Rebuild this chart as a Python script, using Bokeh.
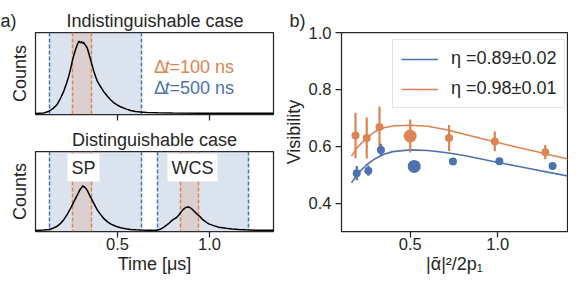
from bokeh.plotting import figure
from bokeh.layouts import row, column
from bokeh.models import Label, Range1d, FixedTicker
from bokeh.embed import file_html
from bokeh.resources import INLINE

# ---------------- data ----------------
# panel a) histograms (time in us, counts normalised)
t_ind = [0.054, 0.10, 0.127, 0.15, 0.172, 0.19, 0.208, 0.222, 0.235, 0.245, 0.254, 0.263,
         0.272, 0.281, 0.290, 0.295, 0.300, 0.305, 0.310, 0.315, 0.320, 0.327, 0.335, 0.344,
         0.353, 0.362, 0.371, 0.380, 0.390, 0.403, 0.417, 0.430, 0.444, 0.462, 0.480, 0.498,
         0.516, 0.545, 0.571, 0.598, 0.625, 0.66, 0.72, 0.80, 0.95, 1.1, 1.348]
c_ind = [0.0, 0.005, 0.03, 0.07, 0.124, 0.21, 0.309, 0.41, 0.516, 0.62, 0.724, 0.81,
         0.885, 0.95, 1.0, 0.985, 0.978, 0.995, 0.97, 0.985, 0.96, 0.94, 0.908, 0.83,
         0.747, 0.665, 0.585, 0.515, 0.447, 0.39, 0.332, 0.285, 0.24, 0.19, 0.147, 0.118,
         0.092, 0.063, 0.041, 0.028, 0.018, 0.012, 0.008, 0.005, 0.003, 0.002, 0.001]

t_dis = [0.054, 0.10, 0.127, 0.15, 0.172, 0.19, 0.208, 0.227, 0.245, 0.263, 0.281, 0.296,
         0.311, 0.322, 0.335, 0.348, 0.362, 0.376, 0.39, 0.408, 0.426, 0.444, 0.462, 0.49,
         0.516, 0.545, 0.571, 0.60, 0.625, 0.67, 0.70,
         0.715, 0.735, 0.752, 0.779, 0.795, 0.806, 0.820, 0.833, 0.845, 0.858, 0.870, 0.882,
         0.894, 0.906, 0.92, 0.933, 0.947, 0.96, 0.978, 0.996, 1.023, 1.051, 1.09, 1.123,
         1.16, 1.196, 1.25, 1.30, 1.348]
c_dis = [0.0, 0.005, 0.014, 0.032, 0.06, 0.10, 0.153, 0.23, 0.315, 0.41, 0.50, 0.58,
         0.63, 0.615, 0.57, 0.50, 0.43, 0.36, 0.29, 0.225, 0.167, 0.125, 0.093, 0.06,
         0.037, 0.024, 0.014, 0.009, 0.005, 0.003, 0.002,
         0.003, 0.02, 0.046, 0.10, 0.14, 0.16, 0.18, 0.22, 0.26, 0.30, 0.325, 0.333,
         0.325, 0.30, 0.265, 0.23, 0.20, 0.16, 0.125, 0.093, 0.068, 0.046, 0.03, 0.019,
         0.013, 0.009, 0.004, 0.002, 0.001]

# integration windows (us)
win500_ind = [(0.13, 0.63)]
win100_ind = [(0.255, 0.357)]
win500_dis = [(0.13, 0.63), (0.717, 1.212)]
win100_dis = [(0.255, 0.357), (0.84, 0.941)]

# panel b) visibility
blue_x = [0.195, 0.261, 0.333, 0.523, 0.744, 1.009, 1.313]
blue_y = [0.505, 0.514, 0.587, 0.529, 0.546, 0.547, 0.530]
blue_err = [0.025, 0.018, 0.022, 0.008, 0.010, 0.006, 0.004]
blue_size = [8, 8, 8, 13, 8, 8, 8]
orange_x = [0.188, 0.252, 0.325, 0.500, 0.722, 0.983, 1.271]
orange_y = [0.638, 0.629, 0.668, 0.636, 0.629, 0.617, 0.579]
orange_err = [0.080, 0.072, 0.072, 0.058, 0.046, 0.035, 0.025]
orange_size = [8, 8, 8, 13, 8, 8, 8]

fit_x = [0.165, 0.2, 0.25, 0.3, 0.35, 0.4, 0.5, 0.6, 0.7, 0.8, 0.9, 1.0, 1.1, 1.2, 1.3, 1.4]
fit_blue = [0.471, 0.503, 0.534, 0.556, 0.572, 0.581, 0.587, 0.585, 0.578, 0.568, 0.556,
            0.543, 0.531, 0.519, 0.507, 0.495]
fit_orange = [0.565, 0.597, 0.628, 0.652, 0.665, 0.671, 0.674, 0.670, 0.659, 0.644, 0.628,
              0.613, 0.598, 0.584, 0.569, 0.555]

legend_labels = ["η =0.89±0.02", "η =0.98±0.01"]
time_ticks = [0.5, 1.0]
time_tick_labels = ["0.5", "1.0"]
vis_xticks = [0.5, 1.0]
vis_xtick_labels = ["0.5", "1.0"]
vis_yticks = [0.4, 0.6, 0.8, 1.0]
vis_ytick_labels = ["0.4", "0.6", "0.8", "1.0"]

# ---------------- style ----------------
BLUE = "#4C72B0"
ORANGE = "#DD8452"
DARK = "#262626"
FONT = "Liberation Sans"
FS = "18px"
TFS = "16.5px"
NBSP = "\u00a0"


def style(p):
    p.outline_line_color = DARK
    p.outline_line_width = 1.25
    p.grid.visible = False
    p.background_fill_color = "white"
    p.border_fill_color = "white"
    p.title.text_font = FONT
    p.title.text_font_size = FS
    p.title.text_font_style = "normal"
    p.title.text_color = DARK
    p.title.standoff = 3
    for ax in p.axis:
        ax.axis_line_color = None
        ax.major_tick_line_color = DARK
        ax.major_tick_line_width = 1.25
        ax.major_tick_out = 6
        ax.major_tick_in = 0
        ax.minor_tick_line_color = None
        ax.major_label_text_font = FONT
        ax.major_label_text_font_size = TFS
        ax.major_label_text_color = DARK
        ax.axis_label_text_font = FONT
        ax.axis_label_text_font_size = FS
        ax.axis_label_text_font_style = "normal"
        ax.axis_label_text_color = DARK


def label(p, x, y, text, color=DARK, align="center", style_="normal", **kw):
    p.add_layout(Label(x=x, y=y, x_units="screen", y_units="screen", text=text,
                       text_font=FONT, text_font_size=FS, text_color=color,
                       text_align=align, text_baseline="middle",
                       text_font_style=style_, **kw))


def hist_panel(height, top, bottom, t, c, w500, w100):
    p = figure(width=280, height=height, output_backend="svg", toolbar_location=None,
               x_range=Range1d(0.054, 1.348), y_range=Range1d(-0.015, 1.12),
               min_border_left=35, min_border_right=7, min_border_top=top,
               min_border_bottom=bottom)
    style(p)
    for (a, b) in w500:
        p.vstrip(x0=[a], x1=[b], fill_color=BLUE, fill_alpha=0.2, line_color=None)
    for (a, b) in w100:
        p.vstrip(x0=[a], x1=[b], fill_color=ORANGE, fill_alpha=0.2, line_color=None)
    xs500 = [v for w in w500 for v in w]
    xs100 = [v for w in w100 for v in w]
    p.vspan(x=xs500, line_color=BLUE, line_width=1.5, line_dash="4 2")
    p.vspan(x=xs100, line_color=ORANGE, line_width=1.5, line_dash="4 2")
    p.line(t, c, line_color="black", line_width=1.5)
    p.xaxis.ticker = FixedTicker(ticks=time_ticks)
    p.yaxis.ticker = FixedTicker(ticks=[])
    p.yaxis.major_tick_out = 0
    p.yaxis.major_label_standoff = 0
    p.yaxis.axis_label = "Counts"
    p.yaxis.axis_label_standoff = 6
    return p


pa = hist_panel(126, 32, 12, t_ind, c_ind, win500_ind, win100_ind)
pa.xaxis.major_label_overrides = {v: "" for v in time_ticks}
pa.xaxis.major_label_standoff = 0
pa.title.text = "a)" + NBSP * 10 + "Indistinguishable case"
pa.title.align = "left"
pa.title.offset = -35
label(pa, 118.5, 48, "Δ", ORANGE, "left")
label(pa, 129, 48, "t", ORANGE, "left", "italic")
label(pa, 134, 48, "=100 ns", ORANGE, "left")
label(pa, 118.5, 27, "Δ", BLUE, "left")
label(pa, 129, 27, "t", BLUE, "left", "italic")
label(pa, 134, 27, "=500 ns", BLUE, "left")

pb = hist_panel(154, 23, 49, t_dis, c_dis, win500_dis, win100_dis)
pb.xaxis.major_label_overrides = dict(zip(time_ticks, time_tick_labels))
pb.xaxis.axis_label = "Time [μs]"
pb.xaxis.major_label_standoff = 0
pb.xaxis.axis_label_standoff = 1
pb.title.text = "Distinguishable case"
pb.title.align = "center"
label(pb, 48, 64, "SP", background_fill_color="white", padding=4)
label(pb, 157, 64, "WCS", background_fill_color="white", padding=4)

# ---------------- panel b ----------------
pc = figure(width=288, height=280, output_backend="svg", toolbar_location=None,
            x_range=Range1d(0.108, 1.398), y_range=Range1d(0.3, 1.0),
            min_border_left=60, min_border_right=1, min_border_top=32, min_border_bottom=49)
style(pc)
pc.title.text = "b)"
pc.title.align = "left"
pc.title.offset = -52
pc.xaxis.ticker = FixedTicker(ticks=vis_xticks)
pc.xaxis.major_label_overrides = dict(zip(vis_xticks, vis_xtick_labels))
pc.yaxis.ticker = FixedTicker(ticks=vis_yticks)
pc.yaxis.major_label_overrides = dict(zip(vis_yticks, vis_ytick_labels))
pc.xaxis.major_label_standoff = 0
pc.yaxis.major_label_standoff = 4
pc.yaxis.axis_label = "Visibility"
pc.yaxis.axis_label_standoff = 2
pc.xaxis.axis_label = "|ᾱ|²/2p₁"
pc.xaxis.axis_label_standoff = 1

pc.line(fit_x, fit_blue, line_color=BLUE, line_width=1.6, legend_label=legend_labels[0])
pc.line(fit_x, fit_orange, line_color=ORANGE, line_width=1.6, legend_label=legend_labels[1])

by0 = [y - e for y, e in zip(blue_y, blue_err)]
by1 = [y + e for y, e in zip(blue_y, blue_err)]
oy0 = [y - e for y, e in zip(orange_y, orange_err)]
oy1 = [y + e for y, e in zip(orange_y, orange_err)]
pc.segment(x0=orange_x, y0=oy0, x1=orange_x, y1=oy1, line_color=ORANGE, line_width=2.2)
pc.segment(x0=blue_x, y0=by0, x1=blue_x, y1=by1, line_color=BLUE, line_width=2.2)
pc.scatter(orange_x, orange_y, size=orange_size, fill_color=ORANGE, line_color=None)
pc.scatter(blue_x, blue_y, size=blue_size, fill_color=BLUE, line_color=None)

lg = pc.legend[0]
lg.location = (51, 123)
lg.padding = 8
lg.spacing = 9
lg.glyph_width = 37
lg.glyph_height = 20
lg.label_standoff = 13
lg.label_text_font = FONT
lg.label_text_font_size = FS
lg.label_text_color = DARK
lg.border_line_color = "#cccccc"
lg.border_line_width = 1
lg.background_fill_alpha = 0.8

layout = row(column(pa, pb), pc)
open("out.html", "w").write(file_html(layout, INLINE))
